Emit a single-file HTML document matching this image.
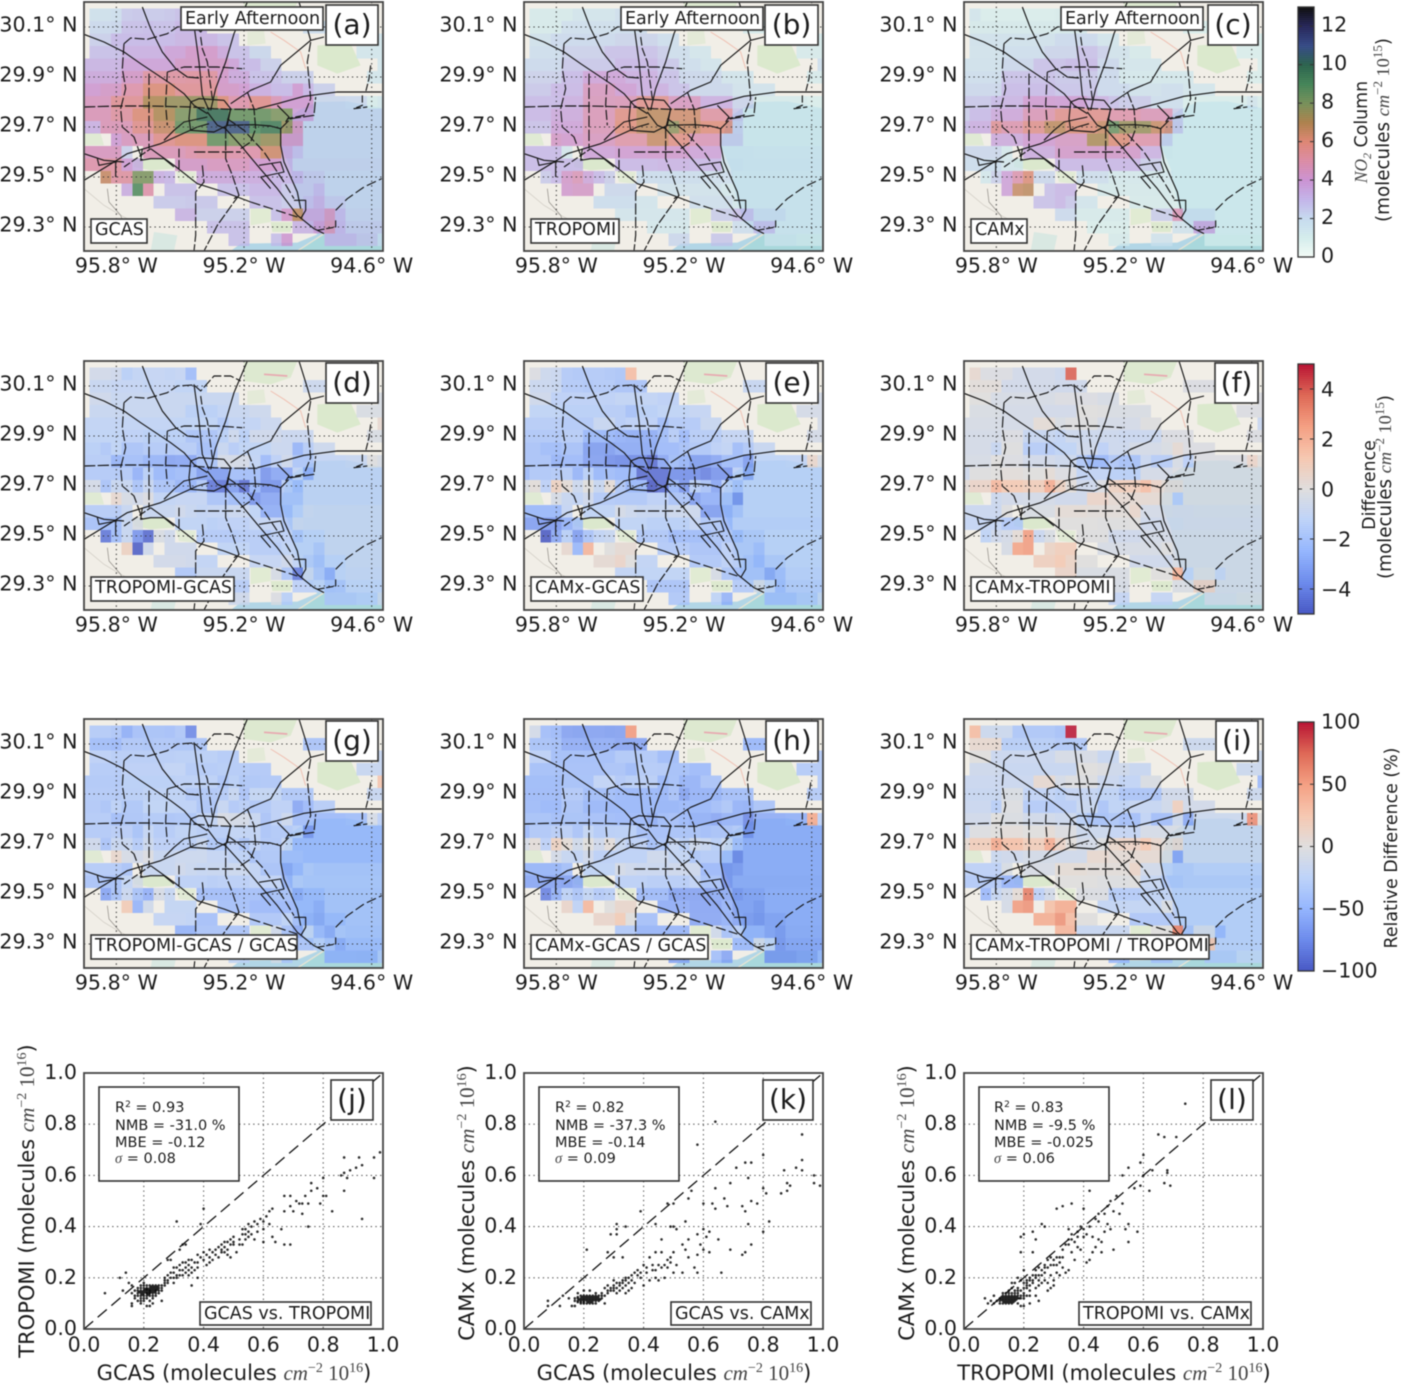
<!DOCTYPE html>
<html lang="en">
<head>
<meta charset="utf-8">
<title>NO2 column maps and scatter comparison</title>
<style>
html,body{margin:0;padding:0;background:#fff;}
svg{display:block;filter:blur(.45px);}
text{font-family:"DejaVu Sans","Liberation Sans",sans-serif;fill:#1c1c1c;}
.tag{font-size:17.5px;}
.letter{font-size:28px;text-anchor:middle;}
.stat{font-size:14.5px;}
.axt{font-size:21px;text-anchor:middle;}
.cbt{font-size:17.4px;text-anchor:middle;}
.cbu{font-size:18.3px;text-anchor:middle;}
.m{font-family:"Liberation Serif",serif;font-style:italic;fill:#444;}
.s{font-family:"Liberation Serif",serif;fill:#444;}
.box{fill:#fff;stroke:#333;stroke-width:1.6;}
</style>
</head>
<body>
<svg id="fig" xmlns="http://www.w3.org/2000/svg" width="1401" height="1385" viewBox="0 0 1401 1385">
<defs>
<clipPath id="panel-clip"><rect width="299" height="249"/></clipPath>
<g id="basemap" transform="scale(.33333)">
<rect width="897" height="747" fill="#f1eee7"/>
<polygon points="650,322 700,300 790,298 893,318 893,747 440,747 470,725 640,722 700,697 660,660 640,600 620,500 590,430 610,350" fill="#b2d6e6"/>
<polygon points="640,747 720,697 893,697 893,747" fill="#a9d8dc"/>
<polyline points="640,747 720,695" fill="none" stroke="#e8e4d4" stroke-width="4"/>
<polygon points="480,0 640,0 620,50 560,70 480,60" fill="#dde9d0"/>
<polygon points="490,90 540,85 545,125 490,130" fill="#e4ead8"/>
<polygon points="700,130 800,125 830,190 760,215 700,190" fill="#dbe9cd"/>
<polygon points="150,470 250,470 270,500 200,505 150,495" fill="#dbe8cd"/>
<polygon points="0,390 50,395 60,430 0,430" fill="#e0ead4"/>
<polygon points="500,620 560,620 560,660 500,670" fill="#e1ebd3"/>
<polygon points="560,660 625,660 620,690 565,690" fill="#dde9cf"/>
<polygon points="275,505 335,510 330,545 285,540" fill="#e2ebd6"/>
<polygon points="210,690 280,700 270,747 200,747" fill="#d9e8e2"/>
<polyline points="560,90 600,115 650,150 665,200" fill="none" stroke="#f0c0b2" stroke-width="3"/>
<polyline points="0,560 60,610 110,640 170,670" fill="none" stroke="#cfcbc3" stroke-width="2"/>
<polyline points="70,560 75,600 110,640 130,700" fill="none" stroke="#8a8680" stroke-width="2"/>
<polyline points="540,40 610,45" fill="none" stroke="#e8a8b0" stroke-width="5"/>
</g>
<g id="roads" transform="scale(.33333)" fill="none" stroke="#151515" stroke-width="3.4" stroke-linejoin="round">
<polyline points="0,97 60,120 120,150 170,185 215,215 260,245 300,275 330,310 370,335"/>
<polyline points="175,15 200,80 235,150 275,200 310,225 345,228"/>
<polyline points="330,70 345,180 355,280 375,325"/>
<polyline points="350,105 355,140 370,180 385,290" stroke-dasharray="26,7"/>
<polyline points="490,0 450,95 425,180 395,260 380,325"/>
<polyline points="520,320 580,305 660,283 760,270 893,270"/>
<polyline points="440,305 500,265 560,240 590,190 650,140 680,115 720,105" />
<polyline points="420,375 470,430 520,490 580,560 640,640 690,680 720,695"/>
<polyline points="430,350 480,385 540,450 600,540 630,590" stroke-dasharray="30,8"/>
<polyline points="430,370 510,368 560,372 590,380"/>
<polyline points="0,315 100,312 200,312 320,315 390,320 440,322 520,322" stroke-dasharray="34,7"/>
<polyline points="0,535 90,480 130,455 180,440 230,425 285,400 340,375 375,365"/>
<polyline points="240,415 270,385 300,360 370,345"/>
<polyline points="320,300 345,290 420,295 440,320 430,370 390,390 320,385 315,350 320,300"/>
<polyline points="370,330 400,370 425,380 440,320"/>
<polyline points="120,125 140,108 190,112 250,95 280,75 330,72 350,90 390,45 440,45 470,60" stroke-dasharray="30,8"/>
<polyline points="120,125 115,200 125,260 110,320 115,375 150,405 170,460 175,475" stroke-dasharray="34,7"/>
<polyline points="250,210 300,195 400,195 475,200" stroke-dasharray="34,8"/>
<polyline points="250,210 245,310 250,370" stroke-dasharray="30,8"/>
<polyline points="195,215 195,330 195,440" stroke-dasharray="34,8"/>
<polyline points="330,450 470,450" stroke-dasharray="34,8"/>
<polyline points="285,440 285,510" stroke-dasharray="26,8"/>
<polyline points="490,270 510,320 515,380 500,420 470,440" stroke-dasharray="34,6"/>
<polyline points="680,120 670,180 680,290 660,340 610,350" stroke-dasharray="30,7"/>
<polyline points="590,380 620,350 690,340 695,285" stroke-dasharray="34,6"/>
<polyline points="590,380 590,430 600,480 640,570 650,620"/>
<polyline points="525,490 590,480 600,510 530,525 560,560"/>
<polyline points="580,310 615,345 605,360"/>
<polyline points="0,455 60,475 120,480"/>
<polyline points="40,470 45,490 95,480 95,525"/>
<polyline points="120,495 200,440" stroke-dasharray="22,6"/>
<polyline points="175,440 170,475 200,470 240,470 270,495"/>
<polyline points="200,440 270,490 340,545 420,570 500,600"/>
<polyline points="500,600 640,645" stroke-dasharray="30,10"/>
<polyline points="355,490 360,540 335,570 335,700 330,747" stroke-dasharray="34,7"/>
<polyline points="465,580 450,600 400,670 360,747" stroke-dasharray="30,6"/>
<polyline points="425,380 425,470 445,520 465,580 450,590" stroke-dasharray="30,6"/>
<polyline points="630,595 665,595 665,625 650,650"/>
<polyline points="755,625 790,590 840,555 893,530" stroke-dasharray="30,10"/>
<polyline points="755,655 755,675 700,685" stroke-dasharray="22,5"/>
<polyline points="835,280 835,310 810,320 850,315" stroke-dasharray="22,6"/>
<polyline points="860,190 855,230 845,270" stroke-dasharray="22,6"/>
<polyline points="645,0 670,80 680,115"/>
</g>
</defs>

<g id="plots"></g>

<g id="annotations">
<!-- map panel tags -->
<g>
<rect class="box" x="181" y="7" width="142" height="23"/>
<text class="tag" x="185" y="24">Early Afternoon</text>
<rect class="box" x="326" y="5" width="52" height="40"/>
<text class="letter" x="352" y="34">(a)</text>
<rect class="box" x="91" y="219" width="56" height="24"/>
<text class="tag" x="95" y="235">GCAS</text>
</g>
<g>
<rect class="box" x="621" y="7" width="142" height="23"/>
<text class="tag" x="625" y="24">Early Afternoon</text>
<rect class="box" x="765" y="5" width="53" height="40"/>
<text class="letter" x="791.5" y="34">(b)</text>
<rect class="box" x="531" y="219" width="88" height="24"/>
<text class="tag" x="535" y="235">TROPOMI</text>
</g>
<g>
<rect class="box" x="1061" y="7" width="142" height="23"/>
<text class="tag" x="1065" y="24">Early Afternoon</text>
<rect class="box" x="1208" y="5" width="50" height="40"/>
<text class="letter" x="1233" y="34">(c)</text>
<rect class="box" x="971" y="219" width="56" height="24"/>
<text class="tag" x="975" y="235">CAMx</text>
</g>
<g>
<rect class="box" x="326" y="363" width="52" height="40"/>
<text class="letter" x="352" y="392">(d)</text>
<rect class="box" x="91" y="577" width="143" height="24"/>
<text class="tag" x="95" y="593">TROPOMI-GCAS</text>
</g>
<g>
<rect class="box" x="766" y="363" width="52" height="40"/>
<text class="letter" x="792" y="392">(e)</text>
<rect class="box" x="531" y="577" width="112" height="24"/>
<text class="tag" x="535" y="593">CAMx-GCAS</text>
</g>
<g>
<rect class="box" x="1215" y="363" width="43" height="40"/>
<text class="letter" x="1236.5" y="392">(f)</text>
<rect class="box" x="971" y="577" width="143" height="24"/>
<text class="tag" x="975" y="593">CAMx-TROPOMI</text>
</g>
<g>
<rect class="box" x="326" y="721" width="52" height="40"/>
<text class="letter" x="352" y="750">(g)</text>
<rect class="box" x="91" y="935" width="206" height="24"/>
<text class="tag" x="95" y="951">TROPOMI-GCAS / GCAS</text>
</g>
<g>
<rect class="box" x="766" y="721" width="52" height="40"/>
<text class="letter" x="792" y="750">(h)</text>
<rect class="box" x="531" y="935" width="177" height="24"/>
<text class="tag" x="535" y="951">CAMx-GCAS / GCAS</text>
</g>
<g>
<rect class="box" x="1216" y="721" width="42" height="40"/>
<text class="letter" x="1237" y="750">(i)</text>
<rect class="box" x="971" y="935" width="238" height="24"/>
<text class="tag" x="975" y="951">CAMx-TROPOMI / TROPOMI</text>
</g>

<!-- colorbar titles -->
<text class="cbt" transform="translate(1367 132) rotate(-90)"><tspan class="m">NO</tspan><tspan class="m" font-size="12" dy="4">2</tspan><tspan dy="-4"> Column</tspan></text>
<text class="cbu" transform="translate(1389 130) rotate(-90)">(molecules <tspan class="m">cm</tspan><tspan class="s" font-size="13" dy="-7">−2</tspan><tspan class="s" dy="7"> 10</tspan><tspan class="s" font-size="13" dy="-7">15</tspan><tspan dy="7">)</tspan></text>
<text class="cbt" transform="translate(1375 485) rotate(-90)">Difference</text>
<text class="cbu" transform="translate(1391 487) rotate(-90)">(molecules <tspan class="m">cm</tspan><tspan class="s" font-size="13" dy="-7">−2</tspan><tspan class="s" dy="7"> 10</tspan><tspan class="s" font-size="13" dy="-7">15</tspan><tspan dy="7">)</tspan></text>
<text class="cbt" transform="translate(1397 848) rotate(-90)">Relative Difference (%)</text>

<!-- scatter j -->
<g>
<rect class="box" x="99" y="1087" width="140" height="94"/>
<text class="stat"><tspan x="115" y="1112">R</tspan><tspan font-size="9" dy="-5">2</tspan><tspan dy="5"> = 0.93</tspan><tspan x="115" y="1130">NMB = -31.0 %</tspan><tspan x="115" y="1147">MBE = -0.12</tspan><tspan x="115" y="1163" class="m">σ</tspan><tspan> = 0.08</tspan></text>
<rect class="box" x="331" y="1080" width="42" height="40"/>
<text class="letter" x="352" y="1109">(j)</text>
<rect class="box" x="200" y="1302" width="171" height="23"/>
<text class="tag" x="204" y="1319">GCAS vs. TROPOMI</text>
<text class="axt" x="234" y="1380">GCAS (molecules <tspan class="m">cm</tspan><tspan class="s" font-size="14" dy="-8">−2</tspan><tspan class="s" dy="8"> 10</tspan><tspan class="s" font-size="14" dy="-8">16</tspan><tspan dy="8">)</tspan></text>
<text class="axt" transform="translate(34 1201) rotate(-90)">TROPOMI (molecules <tspan class="m">cm</tspan><tspan class="s" font-size="14" dy="-8">−2</tspan><tspan class="s" dy="8"> 10</tspan><tspan class="s" font-size="14" dy="-8">16</tspan><tspan dy="8">)</tspan></text>
</g>
<!-- scatter k -->
<g>
<rect class="box" x="539" y="1087" width="140" height="94"/>
<text class="stat"><tspan x="555" y="1112">R</tspan><tspan font-size="9" dy="-5">2</tspan><tspan dy="5"> = 0.82</tspan><tspan x="555" y="1130">NMB = -37.3 %</tspan><tspan x="555" y="1147">MBE = -0.14</tspan><tspan x="555" y="1163" class="m">σ</tspan><tspan> = 0.09</tspan></text>
<rect class="box" x="763" y="1080" width="50" height="40"/>
<text class="letter" x="788" y="1109">(k)</text>
<rect class="box" x="671" y="1302" width="140" height="23"/>
<text class="tag" x="675" y="1319">GCAS vs. CAMx</text>
<text class="axt" x="674" y="1380">GCAS (molecules <tspan class="m">cm</tspan><tspan class="s" font-size="14" dy="-8">−2</tspan><tspan class="s" dy="8"> 10</tspan><tspan class="s" font-size="14" dy="-8">16</tspan><tspan dy="8">)</tspan></text>
<text class="axt" transform="translate(474 1203) rotate(-90)">CAMx (molecules <tspan class="m">cm</tspan><tspan class="s" font-size="14" dy="-8">−2</tspan><tspan class="s" dy="8"> 10</tspan><tspan class="s" font-size="14" dy="-8">16</tspan><tspan dy="8">)</tspan></text>
</g>
<!-- scatter l -->
<g>
<rect class="box" x="979" y="1087" width="130" height="94"/>
<text class="stat"><tspan x="994" y="1112">R</tspan><tspan font-size="9" dy="-5">2</tspan><tspan dy="5"> = 0.83</tspan><tspan x="994" y="1130">NMB = -9.5 %</tspan><tspan x="994" y="1147">MBE = -0.025</tspan><tspan x="994" y="1163" class="m">σ</tspan><tspan> = 0.06</tspan></text>
<rect class="box" x="1211" y="1080" width="42" height="40"/>
<text class="letter" x="1232" y="1109">(l)</text>
<rect class="box" x="1079" y="1302" width="172" height="23"/>
<text class="tag" x="1083" y="1319">TROPOMI vs. CAMx</text>
<text class="axt" x="1114" y="1380">TROPOMI (molecules <tspan class="m">cm</tspan><tspan class="s" font-size="14" dy="-8">−2</tspan><tspan class="s" dy="8"> 10</tspan><tspan class="s" font-size="14" dy="-8">16</tspan><tspan dy="8">)</tspan></text>
<text class="axt" transform="translate(914 1203) rotate(-90)">CAMx (molecules <tspan class="m">cm</tspan><tspan class="s" font-size="14" dy="-8">−2</tspan><tspan class="s" dy="8"> 10</tspan><tspan class="s" font-size="14" dy="-8">16</tspan><tspan dy="8">)</tspan></text>
</g>
</g>
</svg>

<script>
const _ = null;
/* NO2 columns (10^15 molecules/cm2) on the 0.05 degree grid: rows north to south, columns west to east */
const gcasGrid = [
[_,1.8,1.8,1.9,2.7,2.8,2.7,2.7,2.8,3,3],
[_,2.2,2.2,2.3,3,3,3.1,3,3,3.3,3.3,3.3,_,_,_,_,_,_,_,_,_,2,2,2],
[_,2.5,2.5,3.2,3.2,3.2,3.2,3.2,3.2,3.4,3.4,3.4,3.4,3,3,_,_,_,_,_,_,_,_,_,_,_,_,_,1.5],
[_,3,3,3,3.5,3.5,3.5,3.5,4,4,4.5,4.5,4.5,3.8,3,3,2.3,2.3,_,_,_,_,_,_,_,_,1.5,1.5,1.5],
[3.4,3.4,3.4,3.4,4,4,4,4,4,4.6,4.6,4.6,4.6,4.6,4,3.2,3.2,2.5,2.5,_,_,_,_,_,_,_,_,_,1.5],
[3.8,3.8,3.8,3.8,4.6,4.6,5.5,5.5,5.5,5.5,5.6,5.6,5.6,4.5,3.8,3.8,3,3,3,2.5,2.5,2.5,_,_,_,_,_,1.5,1.5],
[4.3,4.3,4.6,4.6,5.3,5.3,6.5,6.5,6.5,5.8,5.8,5.8,5.8,4.6,4.6,4.3,3.6,3.6,3.2,3.2,4.3,3.3,2.5,2.5],
[4.8,4.8,4.8,5.8,5.8,5.8,7.5,7.5,8,8,8,8,8,6.5,5.3,5.3,6,6,5,4.3,4.3,4.3,2.3,2.3,2.3,2.2,2.2,1.1,1.4],
[5,5,5,5.5,5.5,6.5,6.5,7.5,7.5,8.5,8.5,10.5,10.5,10.5,9,9,9,9,8.5,8.5,4,4,2.3,2.3,2.3,2.3,2.3,2.3,2.3],
[3.5,3.5,5,5,5,6,6,7,7,9,9,9,11.5,11.5,11.5,11.5,9.5,10,10,8,4.8,2.3,2.3,2.3,2.3,2.3,2.3,2.3,2.3],
[_,_,_,4.2,4.8,5,5,6,6,6.5,6.5,6.5,9,9,8.5,8.5,8.5,8,8,4.6,4.6,2.3,2.3,2.3,2.3,2.3,2.3,2.3,2.3],
[4.8,4.8,4.8,4.8,2.5,_,5,5,5,5,5.3,5.5,5.5,5.5,5.3,5.3,5.3,6.8,6.8,3.8,3,2.3,2.3,2.3,2.3,2.3,2.3,2.3,2.3],
[5.3,5.3,5.5,5.5,4.2,3.5,_,_,_,4.6,4.6,4.6,4.8,4.8,4.8,4.8,4.4,4.4,4.4,3.4,2.4,2.4,2.4,2.4,2.4,2.4,2.4,2.4,2.4],
[_,_,7,5.5,5.5,8.5,8.5,3.5,3.3,_,_,3.8,3.8,3.8,3.8,3.7,3.7,3.7,3.3,3.3,3.3,2.7,2.7,2.3,2.3,2.3,2.3,2.3,2.3],
[_,_,_,_,3.6,9.5,5.3,_,3,3,3,_,_,3,3,3,3.3,3.3,3.3,2.7,2.7,2.7,3.2,2.3,2.3,2.3,2.3,2.3,2.3],
[_,_,_,_,_,_,_,2.7,2.7,2.7,2.8,2.8,2.8,_,_,_,3,3,3,2.6,2.6,3,3.5,2.7,2.7,2.3,2.3,2.3,2.3],
[_,_,_,_,_,_,_,_,_,3.4,3.4,2.5,2.5,2.5,2.5,2.5,_,_,3,4.5,7.2,3.8,3.8,4.8,3.2,2.4,2.4,2.4,2.4],
[_,_,_,_,_,_,_,_,_,_,_,_,3,3,3,3,_,_,_,_,3.4,3.4,4.2,5,3.3,2.6,2.6,2.6,2.6],
[_,_,_,_,_,_,_,_,_,_,_,_,_,_,3,3,_,_,3,4.3,_,_,_,3.2,3.2,3.2,2.8,2.8,2]
];
const tropomiGrid = [
[_,1.2,1.2,1.2,1.2,1.6,1.6,1.6,1.6,1.9,.7],
[_,1.2,1.2,1.2,1.9,1.9,1.9,1.9,1.9,2,2,2,_,_,_,_,_,_,_,_,_,1.2,1.2,1.2],
[_,1.8,1.8,2.2,2.2,2.2,2.2,2.2,2.2,2.4,2.4,2.4,2.4,2,2,_,_,_,_,_,_,_,_,_,_,_,_,_,1.2],
[_,2,2,2,2.5,2.5,2.5,2.5,3,3,3,3,3,2.6,2,2,1.5,1.5,_,_,_,_,_,_,_,_,1.2,1.2,1.2],
[2.2,2.2,2.2,2.2,2.8,2.8,2.8,2.8,2.8,3.3,3.3,3.3,3.3,2.8,2.8,2,2,1.6,1.6,_,_,_,_,_,_,_,_,_,1.9],
[2.5,2.5,2.5,2.5,3.2,3.2,4,4,4,4,3.6,3.6,3.6,3,3,2.3,2.3,2.3,2.3,1.6,1.6,1.6,_,_,_,_,_,1.2,1.2],
[2.8,2.8,2.8,3.3,3.3,3.3,4.8,4.8,4.8,4.2,4.2,3.6,3.6,3.6,3,3,2.3,2.3,2.3,2.3,1.7,1.7,1.7,1.7],
[3.2,3.2,3.2,3.2,3.6,3.6,4.9,4.9,4.9,5,5,6,6,6,4.8,4.8,4.8,3.6,3.6,3.6,2.4,2.4,1.2,1.2,1.2,1.2,1.2,1,1],
[3.3,3.3,3.3,3.8,3.8,3.8,5,5,5,6.2,6.2,7.2,7.2,7.2,6.8,6.8,6.8,5.5,5.5,5.5,2.8,1.2,1.2,1.2,1.2,1.2,1.2,1.2,1.2],
[3,3,3,4,4,4,5,5,5,6.4,6.4,7.2,7.2,7.2,8.2,7,7,6.4,6.4,6.4,2.5,1.2,1.2,1.2,1.2,1.2,1.2,1.2,1.2],
[_,_,_,4.6,4.4,4.4,4.8,4.8,4.8,5.4,5.4,5.4,7,7,6.2,6.2,5,5,5,2.6,2.6,1.2,1.2,1.2,1.2,1.2,1.2,1.2,1.2],
[3.2,3.2,3.2,3.2,1.5,_,4,4,4,4.3,4.3,4.3,4.4,4.4,4.4,4.4,4,4,4,1.5,1.5,1.5,1.4,1.4,1.4,1.4,1.4,1.4,1.4],
[3.2,3.2,3.2,3.2,3.2,3.2,_,_,_,3.3,3.3,3.3,3.3,3.4,3.4,3.4,3.3,3.3,3.3,1.6,1.6,1.5,1.5,1.5,1.5,1.5,1.5,1.5,1.5],
[_,_,2.7,3.2,4.5,5,3.9,3.2,2.6,_,_,2.1,2.1,2.1,2.1,2.1,2.1,1.9,1.9,1.9,1.4,1.4,1.4,1.4,1.4,1.4,1.4,1.4,1.4],
[_,_,_,_,4.4,4.6,4.6,_,2.3,2.3,2.3,_,_,1.7,1.7,1.7,1.7,1.7,1.7,1.4,1.4,1.4,1.4,1.4,1.4,1.4,1.4,1.4,1.4],
[_,_,_,_,_,_,_,2.1,2.1,2.1,2.1,1.6,1.6,_,_,_,1.9,1.9,1.9,1.9,1.4,1.4,1.4,1.4,1.4,1.4,1.4,1.4,1.4],
[_,_,_,_,_,_,_,_,_,1.6,1.6,1.5,1.5,1.5,1.5,1.5,_,_,2.6,2.6,3,3,2,2,2,1.4,1.4,1.4,1.4],
[_,_,_,_,_,_,_,_,_,_,_,_,1.4,1.4,1.4,1.4,_,_,_,_,2,2,3,3,1.4,1.4,1.4,1.4,1.4],
[_,_,_,_,_,_,_,_,_,_,_,_,_,_,2.3,2.3,_,_,2.8,2.8,_,_,_,1.5,1.5,1.5,1.3,1.3,1.3]
];
const camxGrid = [
[_,1.6,1,1,1,1,1,1,1,1.1,4.6],
[_,1.3,1.3,1.3,1.3,1.3,1.3,1.3,1.3,1.3,1.3,1.3,_,_,_,_,_,_,_,_,_,1,1,1],
[_,1.8,1.8,1.8,1.8,1.8,1.8,1.8,1.8,2.2,2.2,2.2,2.2,1.6,1.6,_,_,_,_,_,_,_,_,_,_,_,_,_,1],
[_,1.7,1.7,1.7,2,2,2,2,2.4,2.4,2.4,3,3,2.5,1.7,1.7,1.2,1.2,_,_,_,_,_,_,_,_,1,1,1],
[1.8,1.8,1.8,1.8,2.3,2.3,2.3,3,3,3,3.2,3.2,3.2,2.3,2.3,1.5,1.5,1.5,1.5,_,_,_,_,_,_,_,_,_,1],
[2,2,2,2,3,3,3,3,3,2.8,2.8,2.8,2.8,2.2,2.2,1.4,1.4,1.4,1.4,1.4,1.4,1.4,_,_,_,_,_,1,1],
[2.3,2.3,2.3,2.3,3.2,3.2,3.2,3.2,3.2,2.9,2.9,2.9,2.9,2.2,2.2,2.2,1.8,1.8,1.8,2,2,1.5,1.5,1.5],
[2.8,2.8,2.8,3.2,3.4,3.4,4.3,4.3,4.3,4.2,4.2,4.2,3.5,3.5,3,2.7,2.7,2.7,2,2,2,1,1,1,1,1,1,1.6,1],
[2.6,3.2,3.2,3.8,3.9,3.9,5,5,5.2,6,6,6,6,6,5.3,5.3,5.3,5,5,5,2.6,1,1,1,1,1,1,1,1],
[3.2,3.6,3.6,5.8,5.2,5.2,6,6,7.2,7.2,6.5,6.5,6.5,7,9,8,8,8,7,6.6,2.7,1,1,1,1,1,1,1,1],
[_,_,_,3.8,3.8,3.8,4.3,4.3,4.3,4.7,4.7,4.7,7.6,7.6,6.5,6.5,5.3,5.3,5.3,2.5,1,1,1,1,1,1,1,1,1],
[2.3,2.3,2.3,2.3,1.4,_,3.7,3.7,3.7,4.5,4.5,4.5,4.5,4.5,4.5,4.5,4.5,3.5,3.5,1.1,1,1,1,1,1,1,1,1,1],
[2.1,2.1,2.1,2.1,1.5,1.5,_,_,_,3.3,3.3,3.3,3.3,3.3,3.3,3.3,3.3,2.6,2.6,1,1,1,1,1,1,1,1,1,1],
[_,_,1.4,2.5,4,5.2,6.5,2.3,2.3,_,_,2,2,2,1.4,1.4,1.4,1.4,1.4,1.4,1,1,1,1,1,1,1,1,1],
[_,_,_,_,4,7,7.2,_,3,3.3,3.3,_,_,1.3,1.3,1.3,1.3,1.3,1.3,1.3,1,1,1,1,1,1,1,1,1],
[_,_,_,_,_,_,_,3,3,3.3,2.8,1.6,1.6,_,_,_,1.2,1.2,1.2,1.2,1,1,1,1,1,1,1,1,1],
[_,_,_,_,_,_,_,_,_,2.2,2.2,1.2,1.2,1.2,1.2,1.2,_,_,2.6,2.6,5,1.8,1.8,1.8,1,1,1,1,1],
[_,_,_,_,_,_,_,_,_,_,_,_,1,1,1,1,_,_,_,_,1.7,1.7,3.8,3.8,1,1,1,1,1],
[_,_,_,_,_,_,_,_,_,_,_,_,_,_,1.2,1.2,_,_,1.7,1.7,_,_,_,1,1,1,1,1,1]
];
const latTicks = [30.1,29.9,29.7,29.5,29.3];
const latTickLabels = ["30.1° N","29.9° N","29.7° N","29.5° N","29.3° N"];
const lonTicks = [-95.8,-95.2,-94.6];
const lonTickLabels = ["95.8° W","95.2° W","94.6° W"];
const scatterTicks = [0,0.2,0.4,0.6,0.8,1];
const scatterTickLabels = ["0.0","0.2","0.4","0.6","0.8","1.0"];
const no2CbarTicks = [0,2,4,6,8,10,12];
const no2CbarLabels = ["0","2","4","6","8","10","12"];
const diffCbarTicks = [-4,-2,0,2,4];
const diffCbarLabels = ["−4","−2","0","2","4"];
const relCbarTicks = [-100,-50,0,50,100];
const relCbarLabels = ["−100","−50","0","50","100"];
/* scatter pairs [x, y] in 10^16 molecules/cm2 */
const gcasVsTropomi = [[.18,.15],[.19,.14],[.2,.15],[.21,.15],[.22,.15],[.23,.16],[.24,.16],[.25,.16],[.26,.17],[.27,.17],[.19,.13],[.2,.13],[.21,.14],[.22,.14],[.23,.14],[.24,.15],[.25,.15],[.2,.16],[.21,.16],[.22,.16],[.23,.17],[.24,.15],[.18,.13],[.19,.12],[.2,.12],[.21,.12],[.22,.13],[.23,.13],[.17,.15],[.18,.16],[.19,.17],[.2,.18],[.21,.14],[.22,.15],[.24,.13],[.26,.15],[.28,.18],[.19,.1],[.21,.09],[.23,.1],[.205,.145],[.215,.155],[.225,.145],[.235,.155],[.245,.165],[.195,.135],[.185,.145],[.215,.135],[.225,.165],[.235,.145],[.2,.14],[.21,.13],[.22,.14],[.23,.15],[.24,.14],[.25,.14],[.19,.15],[.18,.14],[.21,.17],[.22,.17],[.2,.17],[.19,.16],[.24,.17],[.25,.17],[.26,.16],[.27,.18],[.21,.155],[.215,.145],[.225,.155],[.205,.155],[.195,.145],[.235,.165],[.245,.155],[.23,.12],[.22,.11],[.2,.11],[.19,.11],[.17,.13],[.17,.12],[.18,.11],
[.27,.19],[.28,.21],[.29,.2],[.3,.22],[.3,.2],[.31,.24],[.32,.21],[.32,.25],[.33,.23],[.34,.22],[.34,.26],[.35,.25],[.35,.21],[.36,.27],[.36,.24],[.37,.23],[.38,.26],[.38,.29],[.4,.27],[.4,.3],[.41,.25],[.42,.28],[.42,.31],[.43,.3],[.44,.29],[.45,.32],[.45,.28],[.46,.33],[.47,.3],[.47,.34],[.48,.31],[.49,.35],[.49,.28],[.5,.33],[.5,.36],[.51,.3],[.53,.37],[.53,.33],[.54,.39],[.54,.35],[.55,.41],[.55,.36],[.56,.4],[.57,.35],[.57,.42],[.58,.38],[.59,.43],[.6,.39],[.6,.34],[.61,.44],[.62,.46],[.63,.47],[.63,.36],[.64,.34],[.66,.39],[.67,.33],[.69,.33],[.67,.46],[.67,.52],[.69,.52],[.69,.48],[.7,.46],[.71,.5],[.72,.49],[.73,.45],[.73,.49],[.75,.49],[.75,.4],[.74,.52],[.76,.54],[.76,.57],[.78,.55],[.79,.49],[.8,.59],[.8,.52],[.81,.52],[.83,.46],[.86,.6],[.87,.61],[.87,.54],[.87,.67],[.88,.59],[.89,.62],[.91,.63],[.92,.67],[.93,.64],[.93,.43],[.97,.59],[.97,.67],[.99,.69],[.07,.14],[.12,.2],[.14,.22],[.13,.15],[.16,.1],[.16,.09],[.4,.47],[.39,.41],[.31,.42],[.33,.33],[.34,.33],[.28,.27],[.29,.27],[.32,.31],[.38,.2],[.36,.17],[.26,.11],[.22,.09],[.16,.14],[.15,.18],[.16,.17],[.3,.24],[.31,.21],[.33,.26],[.35,.23],[.37,.26],[.39,.28],[.43,.27],[.46,.3],[.48,.34],[.52,.35],[.29,.22],[.31,.2],[.32,.23],[.33,.21],[.34,.24],[.35,.27],[.36,.22],[.38,.24],[.41,.29],[.44,.31],[.46,.31],[.47,.32],[.49,.33],[.5,.34],[.52,.33],[.53,.39],[.55,.38],[.56,.37],[.58,.41],[.6,.42],[.62,.41],[.54,.37],[.48,.29],[.42,.26],[.3,.18],[.28,.19],[.27,.2]];
const gcasVsCamx = [[.17,.11],[.18,.12],[.18,.11],[.19,.11],[.19,.12],[.2,.11],[.2,.12],[.2,.13],[.21,.11],[.21,.12],[.21,.1],[.22,.11],[.22,.12],[.22,.13],[.23,.11],[.23,.12],[.23,.1],[.24,.11],[.24,.12],[.25,.11],[.25,.13],[.26,.12],[.26,.14],[.17,.09],[.16,.09],[.19,.1],[.18,.14],[.2,.15],[.22,.15],[.24,.14],[.27,.13],[.28,.14],[.15,.12],[.13,.13],[.08,.11],[.08,.09],[.12,.09],[.27,.1],[.185,.115],[.195,.115],[.205,.115],[.215,.115],[.225,.115],[.235,.115],[.245,.115],[.205,.125],[.215,.105],[.225,.105],[.235,.125],[.195,.125],[.18,.105],[.19,.105],[.2,.105],[.18,.125],[.19,.13],[.21,.13],[.23,.13],[.24,.13],[.25,.12],[.26,.13],[.215,.125],[.225,.125],[.245,.125],[.17,.12],[.2,.1],[.22,.1],[.24,.1],[.255,.115],
[.28,.15],[.29,.16],[.3,.17],[.3,.15],[.31,.18],[.31,.14],[.32,.17],[.33,.19],[.33,.16],[.34,.17],[.34,.14],[.35,.2],[.35,.15],[.36,.19],[.37,.22],[.37,.18],[.38,.23],[.39,.2],[.4,.25],[.4,.17],[.41,.24],[.42,.19],[.42,.28],[.43,.23],[.44,.3],[.44,.2],[.45,.25],[.45,.19],[.46,.3],[.47,.25],[.47,.2],[.48,.24],[.49,.28],[.49,.26],[.5,.22],[.5,.3],[.5,.4],[.49,.4],[.51,.39],[.51,.25],[.53,.22],[.53,.33],[.54,.31],[.54,.42],[.55,.35],[.55,.28],[.57,.24],[.58,.29],[.58,.37],[.58,.22],[.6,.39],[.59,.33],[.6,.31],[.61,.36],[.62,.3],[.62,.38],[.63,.49],[.64,.47],[.65,.35],[.66,.22],[.67,.51],[.68,.48],[.69,.31],[.74,.3],[.73,.29],[.76,.33],[.75,.41],[.73,.48],[.74,.46],[.76,.5],[.78,.49],[.8,.38],[.8,.55],[.81,.53],[.82,.42],[.86,.53],[.87,.62],[.88,.57],[.88,.54],[.89,.56],[.91,.63],[.93,.62],[.93,.66],[.93,.76],[.97,.6],[.97,.57],[.99,.56],[.8,.68],[.76,.65],[.74,.65],[.75,.59],[.71,.63],[.69,.57],[.64,.55],[.64,.81],[.58,.72],[.56,.54],[.55,.51],[.6,.49],[.48,.49],[.5,.49],[.39,.46],[.31,.41],[.31,.37],[.29,.37],[.21,.31],[.33,.28],[.34,.2],[.3,.28],[.28,.3],[.31,.39],[.34,.4],[.44,.41],[.46,.35],[.29,.15],[.3,.16],[.31,.16],[.32,.18],[.33,.18],[.34,.19],[.35,.18],[.36,.21],[.38,.21],[.39,.22],[.41,.22],[.43,.25],[.44,.23],[.46,.24],[.28,.17],[.27,.16],[.3,.19],[.32,.15],[.36,.16],[.48,.27]];
const tropomiVsCamx = [[.1,.1],[.11,.11],[.12,.12],[.12,.1],[.13,.11],[.13,.12],[.13,.1],[.14,.11],[.14,.12],[.14,.13],[.14,.1],[.15,.11],[.15,.12],[.15,.13],[.15,.1],[.16,.11],[.16,.12],[.16,.13],[.16,.1],[.17,.11],[.17,.12],[.17,.14],[.18,.12],[.18,.14],[.18,.1],[.19,.13],[.19,.15],[.2,.14],[.2,.12],[.21,.13],[.21,.16],[.22,.15],[.2,.09],[.19,.09],[.08,.1],[.07,.12],[.09,.11],[.1,.13],[.13,.14],[.15,.15],[.16,.16],[.18,.16],[.19,.19],[.17,.18],[.125,.115],[.135,.115],[.145,.115],[.155,.115],[.165,.115],[.145,.125],[.155,.105],[.135,.105],[.165,.125],[.175,.125],[.12,.11],[.125,.125],[.13,.13],[.135,.125],[.14,.14],[.145,.105],[.15,.14],[.155,.125],[.16,.14],[.165,.105],[.17,.13],[.175,.115],[.18,.13],[.185,.12],[.19,.12],[.2,.13],[.17,.15],[.18,.15],
[.2,.18],[.21,.19],[.21,.17],[.22,.2],[.22,.17],[.22,.13],[.23,.21],[.23,.18],[.24,.2],[.24,.16],[.24,.23],[.25,.24],[.25,.19],[.26,.21],[.26,.18],[.27,.25],[.27,.22],[.28,.27],[.28,.18],[.29,.28],[.29,.21],[.3,.25],[.3,.19],[.31,.25],[.31,.22],[.31,.28],[.32,.26],[.32,.21],[.33,.24],[.33,.31],[.34,.33],[.34,.22],[.35,.23],[.35,.35],[.35,.39],[.36,.37],[.36,.3],[.37,.34],[.37,.27],[.38,.38],[.38,.32],[.39,.4],[.39,.31],[.4,.36],[.41,.37],[.41,.26],[.42,.4],[.43,.3],[.43,.36],[.44,.43],[.44,.32],[.45,.45],[.46,.3],[.46,.34],[.47,.38],[.48,.48],[.48,.41],[.49,.39],[.49,.5],[.5,.46],[.5,.31],[.51,.52],[.52,.45],[.53,.49],[.54,.39],[.55,.41],[.55,.34],[.55,.63],[.53,.6],[.57,.55],[.58,.38],[.59,.65],[.59,.56],[.6,.6],[.6,.68],[.62,.54],[.63,.62],[.65,.76],[.67,.75],[.67,.57],[.68,.61],[.68,.62],[.69,.56],[.71,.75],[.74,.88],[.42,.54],[.4,.47],[.36,.49],[.33,.48],[.31,.47],[.27,.4],[.26,.41],[.23,.38],[.2,.37],[.19,.36],[.24,.35],[.23,.3],[.19,.3],[.2,.23],[.18,.2],[.16,.18],[.25,.11],[.24,.13],[.22,.1],[.28,.15],[.29,.16],[.3,.17],[.42,.27],[.45,.35],[.2,.16],[.21,.18],[.22,.19],[.23,.19],[.24,.21],[.25,.21],[.26,.23],[.27,.24],[.28,.24],[.29,.25],[.3,.27],[.32,.28],[.33,.28],[.35,.33],[.36,.35],[.38,.36],[.4,.39],[.45,.42],[.47,.45],[.25,.17],[.27,.19]];

/* colour ramps: [value in 0..1, colour] */
const no2Ramp = [[0,"#f3fbf6"],[.077,"#d2ecec"],[.154,"#c3d8ee"],[.231,"#bfb0e8"],[.308,"#c88cd0"],[.385,"#d985a0"],[.462,"#dc7f6c"],[.538,"#a87a42"],[.615,"#6f8a50"],[.692,"#3a7d4e"],[.769,"#1f5a42"],[.846,"#2a4080"],[.923,"#1a1a50"],[1,"#000000"]];
const divRamp = [[0,"#3b4cc0"],[.125,"#6282ea"],[.25,"#8db0fe"],[.375,"#b9d0f9"],[.5,"#dddcdc"],[.625,"#f5c4ac"],[.75,"#f49a7b"],[.875,"#dc5f4b"],[1,"#b40426"]];

const SVGNS = "http://www.w3.org/2000/svg";
const plots = document.getElementById("plots");
function mk(tag, attrs, parent){
  const e = document.createElementNS(SVGNS, tag);
  for (const k in attrs) e.setAttribute(k, attrs[k]);
  parent.appendChild(e);
  return e;
}
function hex(c){ return [1,3,5].map(i => parseInt(c.substr(i,2),16)); }
function rampColor(ramp, t){
  t = Math.max(0, Math.min(1, t));
  for (let i = 1; i < ramp.length; i++){
    if (t <= ramp[i][0]){
      const a = ramp[i-1], b = ramp[i], f = (t-a[0])/(b[0]-a[0]);
      const ca = hex(a[1]), cb = hex(b[1]);
      return "rgb(" + ca.map((v,j) => Math.round(v+(cb[j]-v)*f)).join(",") + ")";
    }
  }
  return ramp[ramp.length-1][1];
}
const PW = 299, PH = 249, CW = 32/3, CH = 12.5, CX0 = (17-32)/3, CY0 = 20/3;
const lonX = lon => 32.33 + (lon + 95.8) * 212.8;
const latY = lat => 25 + (30.1 - lat) * 250;
const colX = c => CX0 + c * CW;
const rowY = r => CY0 + r * CH;

const no2Color = v => rampColor(no2Ramp, v / 13);
const no2CellColor = v => rampColor(no2Ramp, v * .94 / 13);
const diffColor = v => rampColor(divRamp, (v + 5) / 10);
const relColor = v => rampColor(divRamp, (v + 100) / 200);
const diff = (p, q) => (r, c) => { const a = p[r] && p[r][c], b = q[r] && q[r][c]; return (a == null || b == null) ? null : a - b; };
const rel = (p, q) => (r, c) => { const a = p[r] && p[r][c], b = q[r] && q[r][c]; return (a == null || b == null) ? null : 100 * (a - b) / b; };
const own = g => (r, c) => (g[r] && g[r][c] != null) ? g[r][c] : null;

const mapPanels = [
 ["a",84,2,own(gcasGrid),no2CellColor,.78],["b",524,2,own(tropomiGrid),no2CellColor,.74],["c",964,2,own(camxGrid),no2CellColor,.74],
 ["d",84,361,diff(tropomiGrid,gcasGrid),diffColor,.8],["e",524,361,diff(camxGrid,gcasGrid),diffColor,.8],["f",964,361,diff(camxGrid,tropomiGrid),diffColor,.8],
 ["g",84,719,rel(tropomiGrid,gcasGrid),relColor,.8],["h",524,719,rel(camxGrid,gcasGrid),relColor,.8],["i",964,719,rel(camxGrid,tropomiGrid),relColor,.8]
];

function tickText(parent, x, y, s, anchor){
  const t = mk("text", {x:x, y:y, "font-size":"20.6", "text-anchor":anchor}, parent);
  t.textContent = s;
  return t;
}

mapPanels.forEach(([id, px, py, val, color, alpha]) => {
  const g = mk("g", {transform:"translate("+px+" "+py+")"}, plots);
  
  
  const inner = mk("g", {"clip-path":"url(#panel-clip)"}, g);
  const base = mk("use", {href:"#basemap"}, inner);
  
  
  const cells = mk("g", {opacity:alpha,"shape-rendering":"crispEdges"}, inner);
  
  
  for (let r = 0; r < 19; r++){
    for (let c = 0; c < 29; c++){
      const v = val(r, c);
      if (v == null) continue;
      const cell = mk("rect", {x:colX(c).toFixed(2), y:rowY(r).toFixed(2), width:CW.toFixed(2), height:CH, fill:color(v)}, cells);
      
      
    }
  }
  const roads = mk("use", {href:"#roads"}, inner);
  
  
  lonTicks.forEach((lon, i) => {
    const x = lonX(lon);
    const line = mk("line", {x1:x, x2:x, y1:0, y2:PH, stroke:"#333", "stroke-width":"1.1", "stroke-dasharray":"1.3,3.4"}, inner);
    
    
    const lab = tickText(g, x, 270.5, lonTickLabels[i], "middle");
    
    
  });
  latTicks.forEach((lat, i) => {
    const y = latY(lat);
    const line = mk("line", {x1:0, x2:PW, y1:y, y2:y, stroke:"#333", "stroke-width":"1.1", "stroke-dasharray":"1.3,3.4"}, inner);
    
    
    const lab = tickText(g, -6.5, y + 4.5, latTickLabels[i], "end");
    
    
  });
  const frame = mk("rect", {x:0, y:0, width:PW, height:PH, fill:"none", stroke:"#444", "stroke-width":"1.8"}, g);
  
  
});

/* colorbars */
const colorbars = [
 ["no2", 7, 257, 0, 13, no2Color, no2CbarTicks, no2CbarLabels, -2],
 ["difference", 364, 614, -5, 5, diffColor, diffCbarTicks, diffCbarLabels, 0],
 ["relative", 722, 971, -100, 100, relColor, relCbarTicks, relCbarLabels, -1]
];
colorbars.forEach(([name, top, bottom, vmin, vmax, color, ticks, labels, off]) => {
  const g = mk("g", {}, plots);
  
  
  const vy = v => bottom - (v - vmin) / (vmax - vmin) * (bottom - top);
  const steps = 125;
  for (let i = 0; i < steps; i++){
    const v0 = vmin + (vmax - vmin) * i / steps, v1 = vmin + (vmax - vmin) * (i + 1) / steps;
    const seg = mk("rect", {x:1298, y:vy(v1).toFixed(2), width:16, height:(vy(v0)-vy(v1)+.4).toFixed(2), fill:color((v0+v1)/2), "fill-opacity":".92"}, g);
    
    
  }
  const fr = mk("rect", {x:1298, y:top, width:16, height:bottom-top, fill:"none", stroke:"#333", "stroke-width":"1.3"}, g);
  
  
  ticks.forEach((v, i) => {
    const y = vy(v);
    const t1 = mk("line", {x1:1298, x2:1302, y1:y, y2:y, stroke:"#333", "stroke-width":"1"}, g);
    
    
    const t2 = mk("line", {x1:1310, x2:1314, y1:y, y2:y, stroke:"#333", "stroke-width":"1"}, g);
    
    
    const lab = tickText(g, 1321, y + off + 7.5, labels[i], "start");
    
    
  });
});

/* scatter plots */
const SX = 299, SY = 256, STOP = 1073;
const scatterPanels = [["j",84,gcasVsTropomi],["k",524,gcasVsCamx],["l",964,tropomiVsCamx]];
const sx = v => v * SX;
const sy = v => SY - v * SY;
scatterPanels.forEach(([id, px, pts]) => {
  const g = mk("g", {transform:"translate("+px+" "+STOP+")"}, plots);
  
  
  const bg = mk("rect", {width:SX, height:SY, fill:"#fff"}, g);
  
  
  scatterTicks.forEach((v, i) => {
    if (v > 0 && v < 1){
      const gx = mk("line", {x1:sx(v), x2:sx(v), y1:0, y2:SY, stroke:"#555", "stroke-width":"1.1", "stroke-dasharray":"1.3,3.4"}, g);
      
      
      const gy = mk("line", {x1:0, x2:SX, y1:sy(v), y2:sy(v), stroke:"#555", "stroke-width":"1.1", "stroke-dasharray":"1.3,3.4"}, g);
      
      
    }
    const lx = tickText(g, sx(v), SY + 22.5, scatterTickLabels[i], "middle");
    
    
    const ly = tickText(g, -7, sy(v) + 6, scatterTickLabels[i], "end");
    
    
  });
  const one = mk("line", {x1:sx(0), y1:sy(0), x2:sx(1), y2:sy(1), stroke:"#111", "stroke-width":"1.3", "stroke-dasharray":"12,6"}, g);
  
  
  pts.forEach(p => {
    const dot = mk("circle", {cx:sx(p[0]).toFixed(2), cy:sy(p[1]).toFixed(2), r:"1.3", fill:"#0a0a0a", "fill-opacity":".85"}, g);
    
    
  });
  const fr = mk("rect", {x:0, y:0, width:SX, height:SY, fill:"none", stroke:"#444", "stroke-width":"1.8"}, g);
  
  
});
</script>
</body>
</html>
